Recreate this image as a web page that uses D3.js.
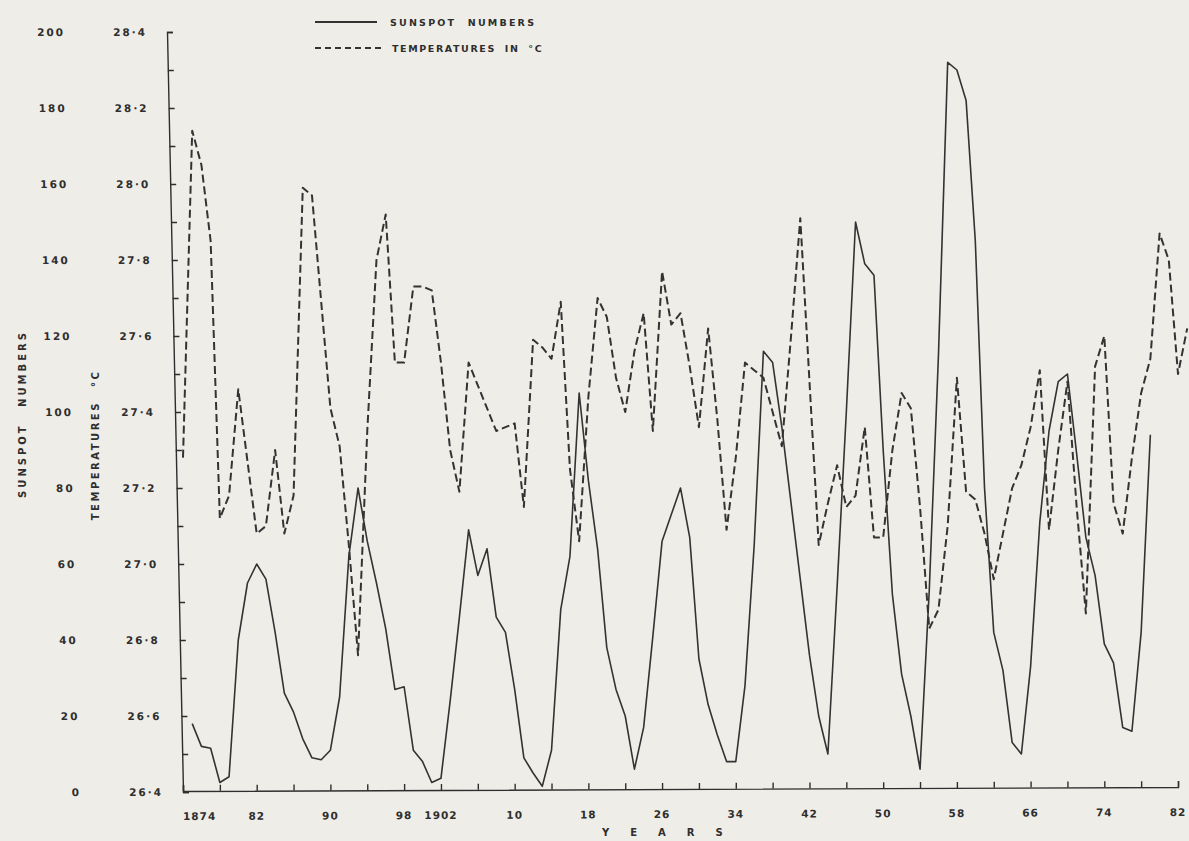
<!DOCTYPE html>
<html>
<head>
<meta charset="utf-8">
<script src="https://cdn.jsdelivr.net/npm/d3@7"></script>
<style>
  html, body { margin: 0; padding: 0; background: #eeede8; }
  svg { display: block; font-family: "DejaVu Sans", sans-serif; }
  .lbl { font-size: 10.5px; font-weight: bold; fill: #2e2e2e; }
</style>
</head>
<body>
<div class="chart"></div>
<script>
// sunspot numbers, one per year from 1875
const spotStart = 1875;
const spots = [
  18, 12, 11.5, 2.5, 4, 40, 55, 60, 56, 42,
  26, 21, 14, 9, 8.5, 11, 25, 62, 80, 66,
  55, 43, 27, 27.7, 11, 8, 2.5, 3.6, 24, 46,
  69, 57, 64, 46, 42, 27, 9, 5, 1.5, 11,
  48, 62, 105, 82, 64, 38, 27, 20, 6, 17,
  41, 66, 73, 80, 67, 35, 23, 15, 8, 8,
  28, 65, 116, 113, 96, 76, 56, 36, 20, 10,
  54, 100, 150, 139, 136, 90, 52, 31, 20, 6,
  53, 115, 192, 190, 182, 145, 80, 42, 32, 13,
  10, 33, 71, 95, 108, 110, 89, 67, 57, 39,
  34, 17, 16, 42, 94
];

// temperatures in deg C, one per year from 1874
const tempStart = 1874;
const temps = [
  27.28, 28.14, 28.05, 27.85, 27.12, 27.18, 27.46, 27.27, 27.08, 27.10,
  27.30, 27.08, 27.18, 27.99, 27.97, 27.69, 27.41, 27.31, 27.05, 26.76,
  27.35, 27.80, 27.92, 27.53, 27.53, 27.73, 27.73, 27.72, 27.53, 27.30,
  27.19, 27.53, 27.47, 27.41, 27.35, 27.36, 27.37, 27.15, 27.59, 27.57,
  27.54, 27.69, 27.25, 27.06, 27.44, 27.70, 27.65, 27.49, 27.40, 27.56,
  27.66, 27.35, 27.77, 27.63, 27.66, 27.52, 27.36, 27.62, 27.38, 27.09,
  27.28, 27.53, 27.51, 27.49, 27.40, 27.31, 27.60, 27.91, 27.48, 27.05,
  27.16, 27.26, 27.15, 27.18, 27.36, 27.07, 27.07, 27.30, 27.45, 27.41,
  27.15, 26.83, 26.88, 27.10, 27.49, 27.19, 27.17, 27.08, 26.96, 27.08,
  27.20, 27.26, 27.36, 27.51, 27.09, 27.30, 27.48, 27.15, 26.87, 27.52,
  27.60, 27.16, 27.08, 27.28, 27.45, 27.54, 27.87, 27.80, 27.50, 27.62
];

// axis ticks and labels
const xTicks = [1874, 1878, 1882, 1886, 1890, 1894, 1898, 1902, 1906, 1910, 1914, 1918, 1922, 1926,
  1930, 1934, 1938, 1942, 1946, 1950, 1954, 1958, 1962, 1966, 1970, 1974, 1978, 1982];
const xLabelYears = [1874, 1882, 1890, 1898, 1902, 1910, 1918, 1926, 1934, 1942, 1950, 1958, 1966, 1974, 1982];
const xLabelText = ["1874", "82", "90", "98", "1902", "10", "18", "26", "34", "42", "50", "58", "66", "74", "82"];
const spotTicks = [0, 10, 20, 30, 40, 50, 60, 70, 80, 90, 100, 110, 120, 130, 140, 150, 160, 170, 180, 190, 200];
const tempTicks = [26.4, 26.6, 26.8, 27.0, 27.2, 27.4, 27.6, 27.8, 28.0, 28.2, 28.4];

const w = 1189;
const h = 841;
const mLeft = 183, mRight = 1178, mTop = 32, mBottom = 792;
const ink = "#2e2e2e";

const x = d3.scaleLinear().domain([1874, 1982]).range([mLeft, mRight]);
const y = d3.scaleLinear().domain([0, 200]).range([mBottom, mTop]);
const yT = d3.scaleLinear().domain([26.4, 28.4]).range([mBottom, mTop]);

const svg = d3.select(".chart")
  .append("svg")
  .attr("width", w)
  .attr("height", h)
  .attr("viewBox", [0, 0, w, h]);

svg.append("rect").attr("width", w).attr("height", h).attr("fill", "#eeede8");

// the hand drawn left axis leans a little
const lean = Math.atan(16 / (mBottom - mTop)) * 180 / Math.PI;
const yWrap = svg.append("g")
  .attr("transform", `translate(0,${mBottom}) skewX(${lean}) translate(0,${-mBottom})`);

const ySpotAxis = yWrap.append("g")
  .attr("transform", `translate(${mLeft},0)`)
  .call(d3.axisLeft(y)
    .tickValues(spotTicks)
    .tickSizeInner(-6)
    .tickSizeOuter(-6)
    .tickPadding(102)
    .tickFormat(d => d % 20 === 0 ? d : ""));

const yTempAxis = yWrap.append("g")
  .attr("transform", `translate(${mLeft},0)`)
  .call(d3.axisLeft(yT)
    .tickValues(tempTicks)
    .tickSize(0)
    .tickPadding(20)
    .tickFormat(d => d.toFixed(1).replace(".", "·")));
yTempAxis.select(".domain").remove();

[ySpotAxis, yTempAxis].forEach(g => {
  g.attr("font-family", null).attr("font-size", null);
  g.selectAll(".tick text").attr("class", "lbl").attr("fill", null)
    .style("font-size", "10.5px").style("letter-spacing", "2px");
  g.selectAll("line, path").attr("stroke", ink).attr("stroke-width", 1.4);
});

// bottom axis, slightly rising to the right
const tilt = -Math.atan(4 / (mRight - mLeft)) * 180 / Math.PI;
const xWrap = svg.append("g")
  .attr("transform", `translate(${mLeft},0) skewY(${tilt}) translate(${-mLeft},0)`);

const xAxis = xWrap.append("g")
  .attr("transform", `translate(0,${mBottom - 1})`)
  .call(d3.axisBottom(x)
    .tickValues(xTicks)
    .tickSizeInner(-6)
    .tickSizeOuter(-6)
    .tickFormat(""));
xAxis.selectAll("line, path").attr("stroke", ink).attr("stroke-width", 1.4);

xWrap.append("g")
  .selectAll("text")
  .data(xLabelYears)
  .join("text")
  .attr("class", "lbl")
  .attr("x", d => x(d))
  .attr("y", mBottom + 28)
  .attr("text-anchor", (d, i) => i === 0 ? "start" : "middle")
  .style("letter-spacing", "1px")
  .text((d, i) => xLabelText[i]);

// lines
const spotLine = d3.line()
  .x((d, i) => x(spotStart + i))
  .y(d => y(d));

const tempLine = d3.line()
  .x((d, i) => x(tempStart + i))
  .y(d => yT(d));

svg.append("path")
  .datum(temps)
  .attr("fill", "none")
  .attr("stroke", "#333")
  .attr("stroke-width", 2)
  .attr("stroke-dasharray", "8,4")
  .attr("stroke-linejoin", "round")
  .attr("d", tempLine);

svg.append("path")
  .datum(spots)
  .attr("fill", "none")
  .attr("stroke", "#333")
  .attr("stroke-width", 1.6)
  .attr("stroke-linejoin", "round")
  .attr("d", spotLine);

// axis titles
svg.append("text")
  .attr("class", "lbl")
  .attr("transform", "translate(26,414) rotate(-90)")
  .attr("text-anchor", "middle")
  .style("font-size", "10px")
  .style("letter-spacing", "3px")
  .style("word-spacing", "10px")
  .text("SUNSPOT NUMBERS");

svg.append("text")
  .attr("class", "lbl")
  .attr("transform", "translate(99,445) rotate(-90)")
  .attr("text-anchor", "middle")
  .style("font-size", "10px")
  .style("letter-spacing", "2.5px")
  .style("word-spacing", "8px")
  .text("TEMPERATURES °C");

svg.append("text")
  .attr("class", "lbl")
  .attr("x", 602)
  .attr("y", 836)
  .style("font-size", "10px")
  .style("letter-spacing", "21px")
  .text("YEARS");

// legend
const legend = svg.append("g");
legend.append("line")
  .attr("x1", 315).attr("x2", 377).attr("y1", 22).attr("y2", 22)
  .attr("stroke", "#333").attr("stroke-width", 1.8);
legend.append("line")
  .attr("x1", 315).attr("x2", 384).attr("y1", 48).attr("y2", 48)
  .attr("stroke", "#333").attr("stroke-width", 1.8)
  .attr("stroke-dasharray", "6,4");
legend.append("text")
  .attr("class", "lbl")
  .attr("x", 390).attr("y", 26)
  .style("font-size", "9.5px")
  .style("letter-spacing", "2.2px")
  .style("word-spacing", "6px")
  .text("SUNSPOT NUMBERS");
legend.append("text")
  .attr("class", "lbl")
  .attr("x", 392).attr("y", 52)
  .style("font-size", "9.5px")
  .style("letter-spacing", "1.6px")
  .style("word-spacing", "4px")
  .text("TEMPERATURES IN °C");
</script>
</body>
</html>
